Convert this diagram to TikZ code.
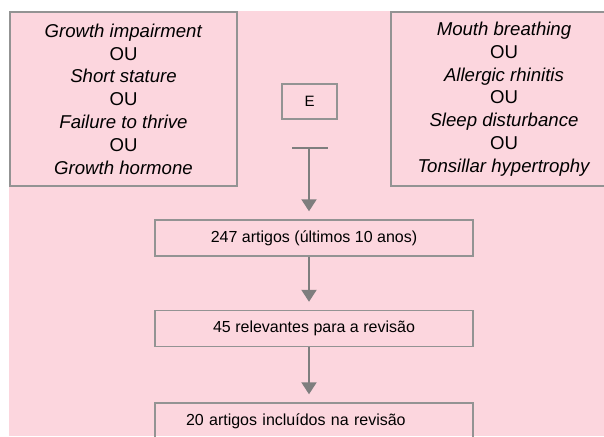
\documentclass[tikz,border=0pt]{standalone}
\usepackage{fontspec}
\setmainfont{Liberation Sans}
\usepackage{xcolor}
\usepackage{tikz}
\usetikzlibrary{arrows.meta}
\definecolor{bgpink}{HTML}{FCD6DE}
\definecolor{frame}{HTML}{939393}
\definecolor{flow}{HTML}{7E7E7E}
\tikzset{
  termbox/.style={draw=frame, line width=1.4pt, minimum width=227pt, minimum height=174pt,
    align=center, font=\fontsize{18.6}{22.8}\selectfont, inner sep=0pt},
  stepbox/.style={draw=frame, line width=1.4pt, minimum width=318pt, minimum height=36pt,
    inner sep=0pt, font=\fontsize{16}{19}\selectfont},
  joinbox/.style={draw=frame, line width=1.4pt, minimum width=55pt, minimum height=35pt,
    inner sep=0pt, font=\fontsize{15}{18}\selectfont},
  link/.style={draw=flow, line width=2pt},
  arr/.style={link, -{Triangle[width=15pt,length=12pt]}, shorten >=8pt},
}

\begin{document}
\begin{tikzpicture}[x=1pt, y=-1pt]
  \clip (0,0) rectangle (604,436);
  \fill[white] (0,0) rectangle (604,436);
  \fill[bgpink] (9,11) rectangle (604,436);

  \node[termbox] (growth) at (123.5,99) {\textit{Growth impairment}\\OU\\\textit{Short stature}\\OU\\%
    \textit{Failure to thrive}\\OU\\\textit{Growth hormone}};
  \node[termbox, minimum width=226pt] (mouth) at (504,99) {\textit{Mouth breathing}\\OU\\\textit{Allergic rhinitis}\\OU\\%
    \textit{Sleep disturbance}\\OU\\\textit{Tonsillar hypertrophy}};
  \node[joinbox] (and) at (309.5,101.5) {E};

  \coordinate (barL) at (292,148);
  \coordinate (barR) at (328,148);
  \coordinate (barM) at (309,148);

  \node[stepbox] (found) at (314,238) {247 artigos (últimos 10 anos)};
  \node[stepbox] (relevant) at (314,328.5) {45 relevantes para a revisão};
  \node[stepbox, text width=256pt, align=left, inner xsep=31pt] (included) at (314,421)
    {20 artigos incluídos na revisão};

  % connectors
  \draw[link] (barL) -- (barR);
  \draw[arr] (barM) -- (barM |- found.north);
  \draw[arr] (found.south -| barM) -- (barM |- relevant.north);
  \draw[arr] (relevant.south -| barM) -- (barM |- included.north);
\end{tikzpicture}
\end{document}
